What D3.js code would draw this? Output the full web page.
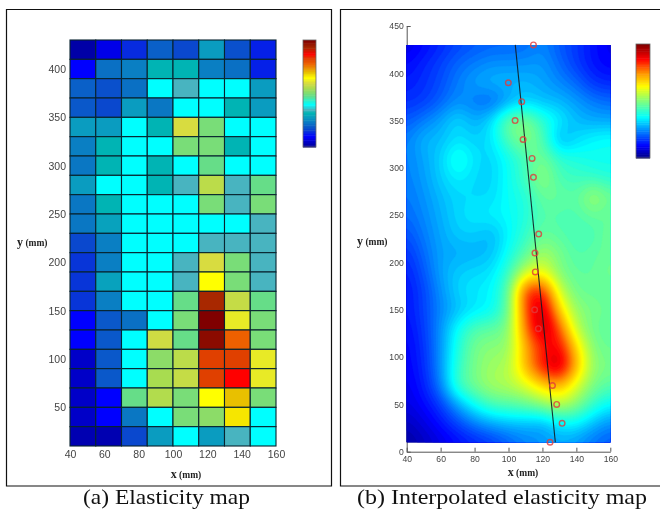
<!DOCTYPE html>
<html><head><meta charset="utf-8">
<style>
html,body{margin:0;padding:0;background:#fff;}
svg{display:block;filter:blur(0.6px);}
</style>
<script src="https://cdn.jsdelivr.net/npm/d3@7"></script>
</head><body>
<svg id="c" width="660" height="510"></svg>
<script>
// ---------- data ----------
const cellXEdges = [40,55,70,85,100,115,130,145,160];
const cellYTop = [430,410,390,370,350,330,310,290,270,250,230,210,190,170,150,130,110,90,70,50,30];
const elasticityRows = [
 [.02,.08,.14,.20,.17,.28,.18,.13],
 [.10,.22,.24,.32,.32,.24,.22,.13],
 [.20,.18,.22,.40,.35,.40,.40,.28],
 [.19,.17,.28,.23,.40,.40,.32,.28],
 [.28,.28,.40,.32,.60,.50,.40,.40],
 [.24,.32,.40,.40,.50,.50,.32,.40],
 [.23,.32,.40,.32,.40,.48,.40,.40],
 [.28,.40,.40,.32,.35,.57,.35,.48],
 [.23,.32,.40,.40,.40,.50,.35,.50],
 [.23,.29,.40,.40,.40,.40,.40,.35],
 [.17,.24,.40,.40,.40,.35,.35,.35],
 [.15,.24,.40,.40,.35,.60,.50,.35],
 [.15,.29,.40,.40,.35,.65,.50,.35],
 [.15,.24,.40,.40,.48,.93,.58,.48],
 [.10,.19,.22,.40,.50,1.0,.62,.50],
 [.10,.19,.40,.59,.48,.98,.78,.50],
 [.05,.19,.40,.52,.57,.83,.83,.62],
 [.05,.19,.40,.55,.58,.83,.87,.62],
 [.05,.10,.48,.56,.50,.65,.70,.50],
 [.05,.10,.23,.40,.50,.52,.67,.40],
 [.03,.03,.17,.28,.40,.28,.35,.40]
];
const interpX = [40,50,60,70,80,90,100,110,120,130,140,150,160];
const interpY = [430,410,390,370,350,330,310,290,270,250,230,210,190,170,150,130,110,90,70,50,30,10];
const interpRows = [
 [.09,.12,.15,.18,.20,.21,.21,.22,.25,.20,.17,.13,.10],
 [.12,.15,.18,.22,.24,.26,.26,.26,.27,.22,.17,.13,.11],
 [.14,.16,.19,.24,.28,.30,.30,.30,.28,.25,.22,.16,.15],
 [.16,.17,.21,.26,.23,.20,.27,.32,.30,.30,.27,.24,.22],
 [.20,.24,.28,.34,.28,.34,.50,.52,.42,.36,.30,.28,.28],
 [.24,.30,.30,.34,.32,.34,.46,.52,.46,.27,.33,.37,.38],
 [.24,.28,.32,.42,.34,.32,.38,.44,.50,.42,.40,.38,.38],
 [.24,.27,.32,.36,.33,.32,.38,.44,.54,.44,.43,.42,.40],
 [.23,.26,.30,.33,.33,.33,.38,.40,.48,.48,.46,.56,.48],
 [.22,.25,.29,.33,.35,.36,.37,.40,.46,.45,.45,.48,.46],
 [.19,.24,.28,.32,.32,.29,.36,.42,.48,.46,.44,.44,.50],
 [.16,.22,.28,.28,.29,.30,.38,.46,.55,.50,.45,.47,.48],
 [.14,.20,.28,.32,.33,.34,.42,.58,.62,.50,.47,.47,.50],
 [.13,.18,.26,.33,.35,.36,.46,.85,.88,.58,.48,.48,.47],
 [.13,.18,.25,.30,.34,.36,.47,.82,.97,.68,.52,.50,.48],
 [.12,.17,.26,.38,.46,.47,.50,.78,.97,.82,.56,.48,.47],
 [.11,.16,.26,.40,.50,.52,.52,.72,.85,.90,.68,.50,.48],
 [.11,.15,.26,.42,.50,.54,.55,.72,.88,.97,.72,.52,.50],
 [.10,.14,.24,.44,.50,.55,.56,.60,.68,.72,.60,.50,.46],
 [.09,.12,.17,.28,.38,.45,.46,.48,.52,.58,.52,.42,.36],
 [.06,.09,.13,.18,.24,.28,.30,.30,.28,.35,.36,.30,.25],
 [.03,.06,.09,.12,.14,.16,.20,.24,.26,.28,.26,.22,.20]
];
const probeX = [114.7,99.9,107.8,103.9,108.6,113.9,114.7,117.8,115.6,115.8,115.4,117.6,125.9,128.4,131.6,124.5];
const probeY = [430,390,370,350,330,310,290,230,210,190,150,130,70,50,30,10];
const fitLineX = [104,127.6];
const fitLineY = [430,10];
const xTicks = [40,60,80,100,120,140,160];
const yTicksA = [50,100,150,200,250,300,350,400];
const yTicksB = [0,50,100,150,200,250,300,350,400,450];
const captions = ["(a) Elasticity map","(b) Interpolated elasticity map"];

// ---------- colour ----------
const blockColor = d3.scaleLinear()
 .domain([0,.10,.16,.22,.28,.32,.35,.40,.48,.55,.60,.65,.70,.78,.83,.87,.93,1])
 .range(["#000090","#0000ff","#0a40d0","#0a70c4","#0a9cc0","#00b4b4","#48b4c0","#00ffff","#66dd88","#a8dc50","#d8dc40","#ffff00","#e8c000","#ee6000","#e04000","#ff0000","#a82800","#800000"])
 .clamp(true);
const jet = d3.scaleLinear()
 .domain([0,.11,.36,.5,.63,.75,.87,1])
 .range(["#000080","#0000ff","#00ffff","#7fff7f","#ffff00","#ff9000","#ff0000","#800000"])
 .clamp(true);

const svg = d3.select("#c");
const labelColor = "#444";
const tickFont = "'Liberation Sans',Arial,sans-serif";
const serif = "'Liberation Serif','Times New Roman',serif";

// panel frames
svg.append("path").attr("fill","none").attr("stroke","#111").attr("stroke-width",1.2)
  .attr("d","M6.5,9.5H331.5V486H6.5Z");
svg.append("path").attr("fill","none").attr("stroke","#111").attr("stroke-width",1.2)
  .attr("d","M660,9.5H340.5V486H660");

// ---------- panel a ----------
const xA = d3.scaleLinear().domain([40,160]).range([70,276]);
const yA = d3.scaleLinear().domain([10,430]).range([446,40]);
const gA = svg.append("g");
elasticityRows.forEach((row,r)=>{
  gA.selectAll(null).data(row).join("rect")
    .attr("x",(d,i)=>xA(cellXEdges[i]))
    .attr("width",(d,i)=>xA(cellXEdges[i+1])-xA(cellXEdges[i]))
    .attr("y",yA(cellYTop[r]))
    .attr("height",yA(cellYTop[r]-20)-yA(cellYTop[r]))
    .attr("fill",d=>blockColor(d))
    .attr("stroke","#08242f").attr("stroke-width",1.1);
});
function styleAxis(g,size){
  g.selectAll("text").attr("font-family",tickFont).attr("font-size",size).attr("fill",labelColor);
  g.selectAll("path,line").attr("stroke","#555");
}
svg.append("g").attr("transform","translate(0,446)")
  .call(d3.axisBottom(xA).tickValues(xTicks).tickSize(0).tickPadding(5))
  .call(g=>g.select(".domain").remove()).call(styleAxis,10.5);
svg.append("g").attr("transform","translate(70,0)")
  .call(d3.axisLeft(yA).tickValues(yTicksA).tickSize(0).tickPadding(4))
  .call(g=>g.select(".domain").remove()).call(styleAxis,10.5);

function axisTitle(x,y,letter,anchor){
  const t = svg.append("text").attr("x",x).attr("y",y).attr("text-anchor",anchor)
    .attr("font-family",serif).attr("font-weight","bold").attr("fill","#222");
  t.append("tspan").attr("font-size",12).text(letter);
  t.append("tspan").attr("font-size",9.5).text(" (mm)");
}
axisTitle(17,246,"y","start");
axisTitle(186,478,"x","middle");

// colour bars
function colorBar(x,y0,y1,w,scale){
  const n = 64, y = d3.scaleLinear().domain([0,n]).range([y1,y0]);
  const g = svg.append("g");
  g.selectAll("rect").data(d3.range(n)).join("rect")
    .attr("x",x).attr("width",w)
    .attr("y",d=>y(d+1)).attr("height",d=>y(d)-y(d+1)+.5)
    .attr("fill",d=>scale((d+.5)/n));
  g.append("rect").attr("x",x).attr("y",y0).attr("width",w).attr("height",y1-y0)
    .attr("fill","none").attr("stroke","#666").attr("stroke-width",.8);
}
colorBar(303,40,147,13,blockColor);
colorBar(636,44,158,14,jet);

// ---------- panel b ----------
const xB = d3.scaleLinear().domain([40,160]).range([406.7,610.3]);
const yB = d3.scaleLinear().domain([0,450]).range([451.7,26]);

// axes drawn first, map sits over them
svg.append("g").attr("transform","translate(0,451.7)")
  .call(d3.axisBottom(xB).tickValues(xTicks).tickSizeInner(-4).tickSizeOuter(0).tickPadding(4))
  .call(styleAxis,8.6);
svg.append("g").attr("transform","translate(406.7,0)")
  .call(d3.axisLeft(yB).tickValues(yTicksB).tickSizeInner(-4).tickSizeOuter(0).tickPadding(3))
  .call(styleAxis,8.6);
axisTitle(357,245,"y","start");
axisTitle(523,476,"x","middle");

// resample the read grid and trace filled contour bands of it
const step = 6, nx = (interpX.length-1)*step+1, ny = (interpY.length-1)*step+1;
const field = new Float64Array(nx*ny);
for(let j=0;j<ny;j++){
  const fy=j/step, r0=Math.min(Math.floor(fy),interpY.length-2), ty=fy-r0;
  for(let i=0;i<nx;i++){
    const fx=i/step, c0=Math.min(Math.floor(fx),interpX.length-2), tx=fx-c0;
    field[j*nx+i]=d3.interpolate(
      d3.interpolate(interpRows[r0][c0],interpRows[r0][c0+1])(tx),
      d3.interpolate(interpRows[r0+1][c0],interpRows[r0+1][c0+1])(tx))(ty);
  }
}
d3.blur2({data:field,width:nx,height:ny},2);
const levels = d3.range(0,1.0001,1/72);
const contours = d3.contours().size([nx,ny]).thresholds(levels)(field);
const gx = d3.scaleLinear().domain([.5,nx-.5]).range([xB(40),xB(160)]);
const gy = d3.scaleLinear().domain([.5,ny-.5]).range([yB(430),yB(10)]);
const proj = d3.geoTransform({point(x,y){this.stream.point(gx(x),gy(y));}});
const path = d3.geoPath(proj);
svg.append("clipPath").attr("id","mapClip").append("rect")
  .attr("x",xB(40)).attr("y",yB(430)).attr("width",xB(160)-xB(40)).attr("height",yB(10)-yB(430));
const gMap = svg.append("g").attr("clip-path","url(#mapClip)");
gMap.append("rect").attr("x",xB(40)).attr("y",yB(430)).attr("width",xB(160)-xB(40)).attr("height",yB(10)-yB(430)).attr("fill",jet(0.04));
gMap.selectAll("path").data(contours).join("path")
  .attr("d",path).attr("fill",d=>jet(d.value)).attr("stroke",d=>jet(d.value)).attr("stroke-width",.3);

svg.append("line")
  .attr("x1",xB(fitLineX[0])).attr("y1",yB(fitLineY[0]))
  .attr("x2",xB(fitLineX[1])).attr("y2",yB(fitLineY[1]))
  .attr("stroke","#101c22").attr("stroke-width",1.1).attr("stroke-opacity",.9);
svg.append("g").selectAll("circle").data(probeX).join("circle")
  .attr("cx",d=>xB(d)).attr("cy",(d,i)=>yB(probeY[i])).attr("r",2.8)
  .attr("fill","none").attr("stroke","#e23a3a").attr("stroke-opacity",.8).attr("stroke-width",1.4);

// ---------- captions ----------
[[83,250],[357,647]].forEach((span,i)=>{
  svg.append("text").attr("x",span[0]).attr("y",504)
    .attr("font-family",serif).attr("font-size",21).attr("fill","#111")
    .attr("textLength",span[1]-span[0]).attr("lengthAdjust","spacingAndGlyphs")
    .text(captions[i]);
});
</script>
</body></html>
